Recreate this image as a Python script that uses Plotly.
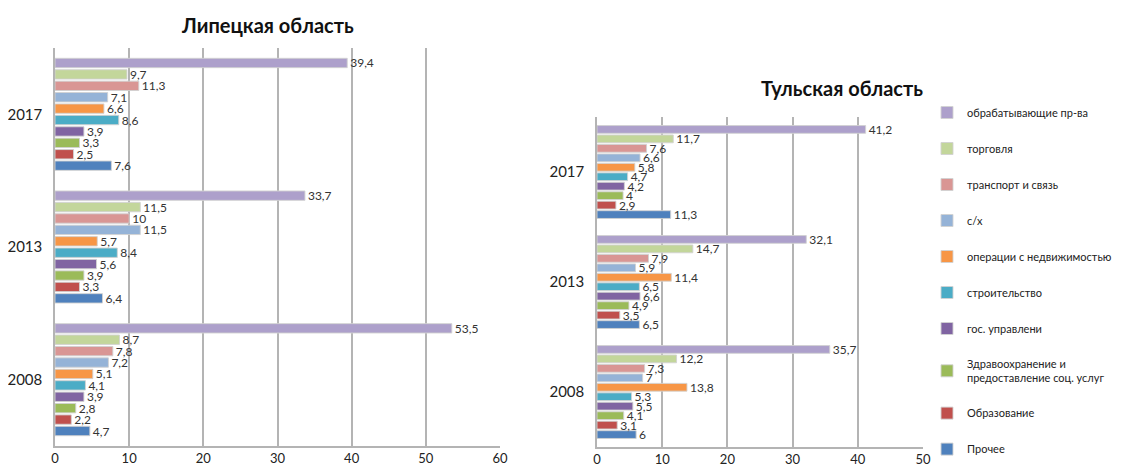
import plotly.graph_objects as go

years = ["2008", "2013", "2017"]
sectors = [
    "Прочее",
    "Образование",
    "Здравоохранение и<br>предоставление соц. услуг",
    "гос. управлени",
    "строительство",
    "операции с недвижимостью",
    "с/х",
    "транспорт и связь",
    "торговля",
    "обрабатывающие пр-ва",
]
colors = ["#4F81BD", "#C0504D", "#9BBB59", "#8064A2", "#4BACC6",
          "#F79646", "#95B3D7", "#D99694", "#C3D69B", "#ADA0CB"]

# values per sector, order of years: 2008, 2013, 2017
lipetsk = {
    "Прочее": [4.7, 6.4, 7.6],
    "Образование": [2.2, 3.3, 2.5],
    "Здравоохранение и<br>предоставление соц. услуг": [2.8, 3.9, 3.3],
    "гос. управлени": [3.9, 5.6, 3.9],
    "строительство": [4.1, 8.4, 8.6],
    "операции с недвижимостью": [5.1, 5.7, 6.6],
    "с/х": [7.2, 11.5, 7.1],
    "транспорт и связь": [7.8, 10, 11.3],
    "торговля": [8.7, 11.5, 9.7],
    "обрабатывающие пр-ва": [53.5, 33.7, 39.4],
}
tula = {
    "Прочее": [6, 6.5, 11.3],
    "Образование": [3.1, 3.5, 2.9],
    "Здравоохранение и<br>предоставление соц. услуг": [4.1, 4.9, 4],
    "гос. управлени": [5.5, 6.6, 4.2],
    "строительство": [5.3, 6.5, 4.7],
    "операции с недвижимостью": [13.8, 11.4, 5.8],
    "с/х": [7, 5.9, 6.6],
    "транспорт и связь": [7.3, 7.9, 7.6],
    "торговля": [12.2, 14.7, 11.7],
    "обрабатывающие пр-ва": [35.7, 32.1, 41.2],
}

FONT = "Lato, Open Sans, sans-serif"
W, H = 1119, 465  # page body has an 8px margin

def fmt(v):
    s = ("%g" % v)
    return s.replace(".", ",")

fig = go.Figure()
n = len(sectors)
for i, s in enumerate(sectors):
    for data, xa, ya, show in [(lipetsk, "x", "y", True), (tula, "x2", "y2", False)]:
        vals = data[s]
        fig.add_trace(go.Bar(
            y=years, x=vals, orientation="h", name=s,
            marker=dict(color=colors[i], line=dict(color="rgba(210,210,210,0.9)", width=1)),
            text=[fmt(v) for v in vals], textposition="outside",
            textfont=dict(size=12, color="#333333", family=FONT),
            constraintext="none", cliponaxis=False,
            xaxis=xa, yaxis=ya, showlegend=show, legendgroup=s,
            legendrank=n - i,
        ))

axis_common = dict(showgrid=True, gridcolor="#B4B4B4", gridwidth=1.5,
                   showline=True, linecolor="#B4B4B4", linewidth=1.5,
                   zeroline=False, ticks="", automargin=False,
                   tickfont=dict(size=13, color="#222", family=FONT))

fig.update_layout(
    width=W, height=H,
    margin=dict(l=0, r=0, t=0, b=0, autoexpand=False),
    paper_bgcolor="white", plot_bgcolor="white",
    barmode="group", bargap=0.14, bargroupgap=0.18,
    font=dict(family=FONT, color="#222"),
    xaxis=dict(domain=[47/W, 492/W], range=[0, 60], dtick=10, anchor="y", **axis_common),
    yaxis=dict(domain=[1-438/H, 1-40/H], anchor="x", showgrid=False, showline=True,
               linecolor="#B4B4B4", linewidth=1.5, ticks="", ticklabelstandoff=8, automargin=False,
               tickfont=dict(size=15, color="#222", family=FONT)),
    xaxis2=dict(domain=[589/W, 915/W], range=[0, 50], dtick=10, anchor="y2", **axis_common),
    yaxis2=dict(domain=[1-439/H, 1-109/H], anchor="x2", showgrid=False, showline=True,
                linecolor="#B4B4B4", linewidth=1.5, ticks="", ticklabelstandoff=8, automargin=False,
                tickfont=dict(size=15, color="#222", family=FONT)),
    legend=dict(x=919/W, y=1-90/H, xanchor="left", yanchor="top",
                traceorder="grouped", tracegroupgap=17,
                font=dict(size=11, color="#222", family=FONT),
                itemwidth=30,
                bgcolor="rgba(0,0,0,0)"),
    annotations=[
        dict(text="<b>Липецкая область</b>", x=259/W, y=1-17/H, xref="paper", yref="paper",
             xanchor="center", yanchor="middle",
             showarrow=False, font=dict(size=20, color="#111", family=FONT)),
        dict(text="<b>Тульская область</b>", x=834/W, y=1-80/H, xref="paper", yref="paper",
             xanchor="center", yanchor="middle",
             showarrow=False, font=dict(size=20, color="#111", family=FONT)),
    ],
)

fig.write_html("out.html")
